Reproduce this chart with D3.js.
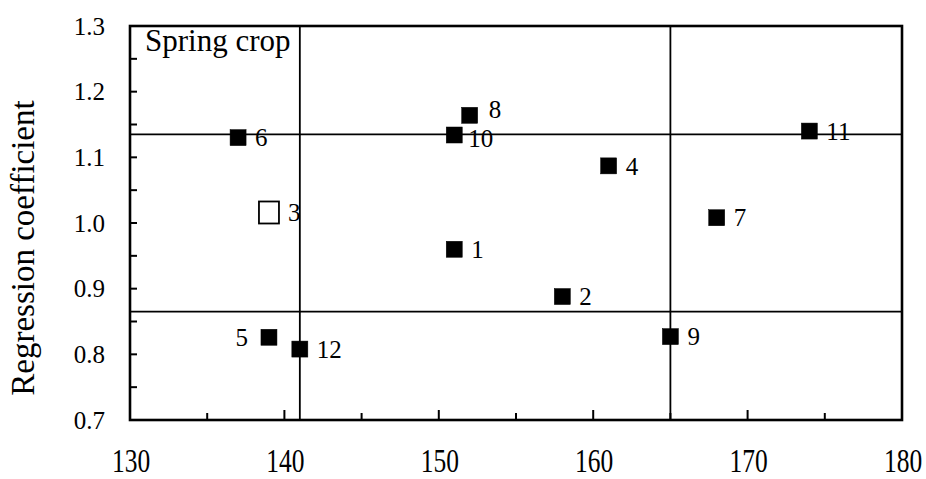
<!DOCTYPE html>
<html>
<head>
<meta charset="utf-8">
<script src="https://cdn.jsdelivr.net/npm/d3@7"></script>
<style>
  html, body { margin: 0; padding: 0; background: #fff; }
  svg text { font-family: "Liberation Serif", "Times New Roman", serif; fill: #000; }
</style>
</head>
<body>
<svg id="chart" width="926" height="479"></svg>
<script>
// ----- 数据 -----
const ids = [1, 2, 3, 4, 5, 6, 7, 8, 9, 10, 11, 12];
const xValues = [151, 158, 139, 161, 139, 137, 168, 152, 165, 151, 174, 141];
const yValues = [0.960, 0.888, 1.016, 1.087, 0.826, 1.130, 1.008, 1.164, 0.827, 1.134, 1.140, 0.808];
const hollowIds = [3];
// 分组参考线（均值 / 阈值）
const xRefLines = [141, 165];
const yRefLines = [1.135, 0.865];
const xTickLabels = [130, 140, 150, 160, 170, 180];
const yTickLabels = [0.7, 0.8, 0.9, 1.0, 1.1, 1.2, 1.3];
const panelTitle = "Spring crop";
const yTitle = "Regression coefficient";

// ----- 布局 -----
const svg = d3.select("#chart");
const margin = { top: 26, right: 24, bottom: 59, left: 130 };
const W = 926, H = 479;
const x = d3.scaleLinear().domain([130, 180]).range([margin.left, W - margin.right]);
const y = d3.scaleLinear().domain([0.7, 1.3]).range([H - margin.bottom, margin.top]);

// 标签的微调（个别点避让）
const labelNudge = { 5: { side: "left", dx: -21, dy: 0 }, 8: { dx: 19, dy: -6 }, 10: { dx: 14, dy: 3 }, 3: { dx: 19, dy: 0 } };

// 参考线
svg.append("g").selectAll("line.vref")
  .data(xRefLines).enter().append("line")
  .attr("x1", d => x(d)).attr("x2", d => x(d))
  .attr("y1", y(1.3)).attr("y2", y(0.7))
  .attr("stroke", "#000").attr("stroke-width", 1.8);
svg.append("g").selectAll("line.href")
  .data(yRefLines).enter().append("line")
  .attr("x1", x(130)).attr("x2", x(180))
  .attr("y1", d => y(d)).attr("y2", d => y(d))
  .attr("stroke", "#000").attr("stroke-width", 1.8);

// 刻度（朝内）
const yTicks = d3.range(0.7, 1.3001, 0.05);
svg.append("g").selectAll("line")
  .data(yTicks).enter().append("line")
  .attr("x1", x(130)).attr("x2", x(130) + 7)
  .attr("y1", d => y(d)).attr("y2", d => y(d))
  .attr("stroke", "#000").attr("stroke-width", 2);
const xTicks = d3.range(135, 176, 5);
svg.append("g").selectAll("line")
  .data(xTicks).enter().append("line")
  .attr("x1", d => x(d)).attr("x2", d => x(d))
  .attr("y1", y(0.7)).attr("y2", d => y(0.7) - (d % 10 === 0 ? 10 : 7))
  .attr("stroke", "#000").attr("stroke-width", 2);

// 外框
svg.append("rect")
  .attr("x", x(130)).attr("y", y(1.3))
  .attr("width", x(180) - x(130)).attr("height", y(0.7) - y(1.3))
  .attr("fill", "none").attr("stroke", "#000").attr("stroke-width", 2.6);

// 刻度标签
svg.append("g").selectAll("text")
  .data(yTickLabels).enter().append("text")
  .attr("x", x(130) - 25).attr("y", d => y(d))
  .attr("dy", "0.35em")
  .attr("text-anchor", "end")
  .style("font-size", "25px")
  .text(d => d.toFixed(1));
svg.append("g").selectAll("text")
  .data(xTickLabels).enter().append("text")
  .attr("transform", d => `translate(${x(d) + 1},${H - 7}) scale(0.85,1.1)`)
  .attr("text-anchor", "middle")
  .style("font-size", "30px")
  .text(d => d);

// 轴标题
svg.append("text")
  .attr("transform", `translate(34,${(y(0.7) + y(1.3)) / 2 + 25}) rotate(-90)`)
  .attr("text-anchor", "middle")
  .style("font-size", "33px")
  .text(yTitle);
svg.append("text")
  .attr("x", x(130) + 15).attr("y", y(1.3) + 25)
  .style("font-size", "31px")
  .text(panelTitle);

// 数据点
const points = ids.map((id, i) => ({ id, x: xValues[i], y: yValues[i], hollow: hollowIds.includes(id) }));
const g = svg.append("g");
g.selectAll("rect")
  .data(points).enter().append("rect")
  .attr("x", d => x(d.x) - (d.hollow ? 10 : 8))
  .attr("y", d => y(d.y) - (d.hollow ? 11 : 8))
  .attr("width", d => d.hollow ? 20 : 16)
  .attr("height", d => d.hollow ? 22 : 16)
  .attr("fill", d => d.hollow ? "#fff" : "#000")
  .attr("stroke", "#000")
  .attr("stroke-width", d => d.hollow ? 1.8 : 0.5);
g.selectAll("text")
  .data(points).enter().append("text")
  .attr("x", d => x(d.x) + (labelNudge[d.id] ? labelNudge[d.id].dx : 17))
  .attr("y", d => y(d.y) + (labelNudge[d.id] ? labelNudge[d.id].dy : 0))
  .attr("dy", "0.35em")
  .attr("text-anchor", d => labelNudge[d.id] && labelNudge[d.id].side === "left" ? "end" : "start")
  .style("font-size", "25px")
  .text(d => d.id);
</script>
</body>
</html>
